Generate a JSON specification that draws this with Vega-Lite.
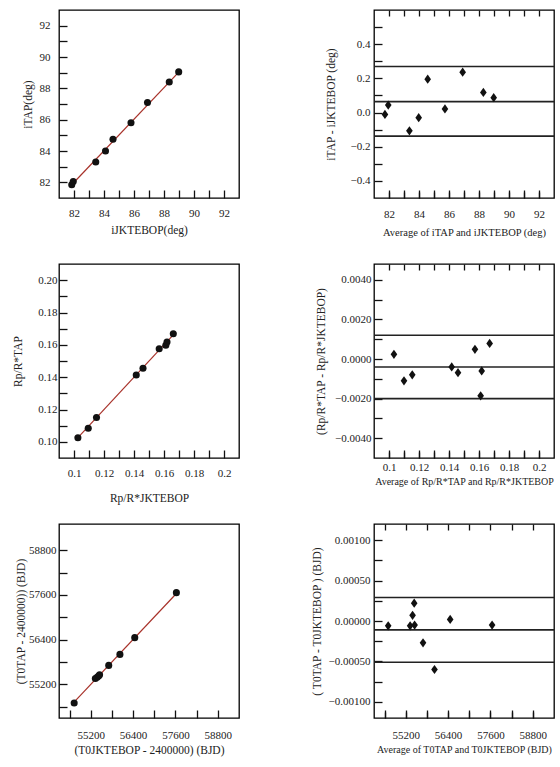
{
  "$schema": "https://vega.github.io/schema/vega-lite/v6.json",
  "padding": {"left": 12, "top": 9, "right": 0, "bottom": 0},
  "autosize": {"type": "pad"},
  "config": {
    "view": {"stroke": "#000", "strokeWidth": 1.3},
    "font": "Liberation Serif",
    "axis": {"labelFont": "Liberation Serif", "titleFont": "Liberation Serif", "labelFontSize": 11, "titleFontSize": 11.5, "labelColor": "#222", "titleColor": "#222", "titleFontWeight": "normal", "tickColor": "#111", "tickWidth": 1.3, "domain": false, "grid": true, "gridColor": "#111", "gridWidth": 1.3, "gridOpacity": 1, "labelOverlap": false, "labelFlush": false}
  },
  "datasets": {
    "p1": [{"x":81.85,"y":81.85},{"x":81.95,"y":82.05},{"x":83.45,"y":83.3},{"x":84.1,"y":84.0},{"x":84.6,"y":84.75},{"x":85.8,"y":85.8},{"x":86.9,"y":87.1},{"x":88.35,"y":88.4},{"x":88.98,"y":89.05}],
    "p1line": [{"x":81.8,"y":81.8},{"x":89.0,"y":89.05}],
    "p2": [{"x":81.73,"y":-0.011},{"x":81.95,"y":0.044},{"x":83.36,"y":-0.107},{"x":83.98,"y":-0.03},{"x":84.58,"y":0.195},{"x":85.73,"y":0.021},{"x":86.91,"y":0.236},{"x":88.29,"y":0.118},{"x":88.98,"y":0.087}],
    "p2lines": [{"y":0.269},{"y":0.064},{"y":-0.138}],
    "p3": [{"x":0.1026,"y":0.1025},{"x":0.1095,"y":0.1084},{"x":0.115,"y":0.1151},{"x":0.1415,"y":0.1413},{"x":0.146,"y":0.1455},{"x":0.1568,"y":0.1576},{"x":0.1612,"y":0.1597},{"x":0.162,"y":0.1618},{"x":0.1662,"y":0.1669}],
    "p3line": [{"x":0.102,"y":0.102},{"x":0.1665,"y":0.1665}],
    "p4": [{"x":0.1033,"y":0.00024},{"x":0.11,"y":-0.0011},{"x":0.1155,"y":-0.0008},{"x":0.1418,"y":-0.0004},{"x":0.146,"y":-0.00069},{"x":0.1573,"y":0.00049},{"x":0.1618,"y":-0.0006},{"x":0.1611,"y":-0.00186},{"x":0.1671,"y":0.00079}],
    "p4lines": [{"y":0.0012},{"y":-0.0004},{"y":-0.002}],
    "p5": [{"x":54730,"y":54700},{"x":55330,"y":55360},{"x":55380,"y":55390},{"x":55422,"y":55423},{"x":55450,"y":55460},{"x":55709,"y":55710},{"x":56026,"y":56005},{"x":56446,"y":56454},{"x":57626,"y":57660}],
    "p5line": [{"x":54700,"y":54700},{"x":57640,"y":57650}],
    "p6": [{"x":54702,"y":-0.00006},{"x":55324,"y":-0.00006},{"x":55393,"y":0.00007},{"x":55439,"y":0.00022},{"x":55450,"y":-0.00005},{"x":55689,"y":-0.00027},{"x":56014,"y":-0.0006},{"x":56458,"y":0.00002},{"x":57646,"y":-0.00005}],
    "p6lines": [{"y":0.00029},{"y":-0.00011},{"y":-0.00051}]
  },
  "columns": 2,
  "spacing": {"row": 66, "column": 135},
  "bounds": "flush",
  "align": "each",
  "concat": [
    {
      "width": 180, "height": 188,
      "resolve": {"axis": {"x": "independent", "y": "independent"}},
      "layer": [
        {"data": {"name": "p1line"}, "mark": {"type": "line", "color": "#a8322a", "strokeWidth": 1.2},
         "encoding": {"x": {"field": "x", "type": "quantitative", "scale": {"domain": [81, 93], "nice": false, "zero": false}, "axis": null},
                      "y": {"field": "y", "type": "quantitative", "scale": {"domain": [81, 93], "nice": false, "zero": false}, "axis": null}}},
        {"data": {"name": "p1"}, "mark": {"type": "circle", "size": 50, "color": "#111", "opacity": 1},
         "encoding": {"x": {"field": "x", "type": "quantitative", "scale": {"domain": [81, 93], "nice": false, "zero": false},
                            "axis": {"orient": "bottom", "title": "iJKTEBOP(deg)", "tickSize": -8, "labelPadding": 17, "titlePadding": 6, "gridDash": [6, 176, 6], "values": [82,83,84,85,86,87,88,89,90,91,92], "labelExpr": "datum.value % 2 === 0 ? datum.label : ''"}},
                      "y": {"field": "y", "type": "quantitative", "scale": {"domain": [81, 93], "nice": false, "zero": false},
                            "axis": {"orient": "left", "title": "iTAP(deg)", "tickSize": -8, "labelPadding": 17, "titlePadding": 6, "gridDash": [6, 168, 6], "values": [82,83,84,85,86,87,88,89,90,91,92], "labelExpr": "datum.value % 2 === 0 ? datum.label : ''"}}}}
      ]
    },
    {
      "width": 180, "height": 188,
      "resolve": {"axis": {"x": "independent", "y": "independent"}},
      "layer": [
        {"data": {"name": "p2lines"}, "mark": {"type": "rule", "color": "#222", "strokeWidth": 1.6},
         "encoding": {"y": {"field": "y", "type": "quantitative", "scale": {"domain": [-0.5, 0.6], "nice": false, "zero": false}, "axis": null}}},
        {"data": {"name": "p2"}, "mark": {"type": "point", "shape": "M0,-1L0.72,0L0,1L-0.72,0Z", "filled": true, "size": 85, "color": "#111", "opacity": 1},
         "encoding": {"x": {"field": "x", "type": "quantitative", "scale": {"domain": [81, 93], "nice": false, "zero": false},
                            "axis": {"orient": "bottom", "title": "Average of iTAP and iJKTEBOP (deg)", "titleFontSize": 10.5, "tickSize": -8, "labelPadding": 18, "titlePadding": 8, "gridDash": [6, 176, 6], "values": [82,83,84,85,86,87,88,89,90,91,92], "labelExpr": "datum.value % 2 === 0 ? datum.label : ''"}},
                      "y": {"field": "y", "type": "quantitative", "scale": {"domain": [-0.5, 0.6], "nice": false, "zero": false},
                            "axis": {"orient": "left", "title": "iTAP - iJKTEBOP (deg)", "tickSize": -8, "labelPadding": 12, "titlePadding": 14, "gridDash": [6, 168, 6], "values": [-0.4,-0.3,-0.2,-0.1,0,0.1,0.2,0.3,0.4,0.5], "labelExpr": "abs(round(datum.value*10)) % 2 === 0 && datum.value < 0.45 ? format(datum.value, '.1f') : ''"}}}}
      ]
    },
    {
      "width": 180, "height": 194,
      "resolve": {"axis": {"x": "independent", "y": "independent"}},
      "layer": [
        {"data": {"name": "p3line"}, "mark": {"type": "line", "color": "#a8322a", "strokeWidth": 1.2},
         "encoding": {"x": {"field": "x", "type": "quantitative", "scale": {"domain": [0.09, 0.21], "nice": false, "zero": false}, "axis": null},
                      "y": {"field": "y", "type": "quantitative", "scale": {"domain": [0.09, 0.21], "nice": false, "zero": false}, "axis": null}}},
        {"data": {"name": "p3"}, "mark": {"type": "circle", "size": 50, "color": "#111", "opacity": 1},
         "encoding": {"x": {"field": "x", "type": "quantitative", "scale": {"domain": [0.09, 0.21], "nice": false, "zero": false},
                            "axis": {"orient": "bottom", "title": "Rp/R*JKTEBOP", "tickSize": -8, "labelPadding": 17, "titlePadding": 14, "gridDash": [6, 182, 6], "values": [0.1,0.11,0.12,0.13,0.14,0.15,0.16,0.17,0.18,0.19,0.2], "labelExpr": "round(datum.value*100) % 2 === 0 ? format(datum.value, '~g') : ''"}},
                      "y": {"field": "y", "type": "quantitative", "scale": {"domain": [0.09, 0.21], "nice": false, "zero": false},
                            "axis": {"orient": "left", "title": "Rp/R*TAP", "tickSize": -8, "labelPadding": 10, "titlePadding": 14, "gridDash": [6, 168, 6], "values": [0.1,0.11,0.12,0.13,0.14,0.15,0.16,0.17,0.18,0.19,0.2], "labelExpr": "round(datum.value*100) % 2 === 0 ? format(datum.value, '.2f') : ''"}}}}
      ]
    },
    {
      "width": 180, "height": 194,
      "resolve": {"axis": {"x": "independent", "y": "independent"}},
      "layer": [
        {"data": {"name": "p4lines"}, "mark": {"type": "rule", "color": "#222", "strokeWidth": 1.6},
         "encoding": {"y": {"field": "y", "type": "quantitative", "scale": {"domain": [-0.005, 0.0048], "nice": false, "zero": false}, "axis": null}}},
        {"data": {"name": "p4"}, "mark": {"type": "point", "shape": "M0,-1L0.72,0L0,1L-0.72,0Z", "filled": true, "size": 85, "color": "#111", "opacity": 1},
         "encoding": {"x": {"field": "x", "type": "quantitative", "scale": {"domain": [0.09, 0.21], "nice": false, "zero": false},
                            "axis": {"orient": "bottom", "title": "Average of Rp/R*TAP and Rp/R*JKTEBOP", "titleFontSize": 10, "tickSize": -8, "labelPadding": 11, "titlePadding": 4, "gridDash": [6, 182, 6], "values": [0.1,0.11,0.12,0.13,0.14,0.15,0.16,0.17,0.18,0.19,0.2], "labelExpr": "round(datum.value*100) % 2 === 0 ? format(datum.value, '~g') : ''"}},
                      "y": {"field": "y", "type": "quantitative", "scale": {"domain": [-0.005, 0.0048], "nice": false, "zero": false},
                            "axis": {"orient": "left", "title": "(Rp/R*TAP - Rp/R*JKTEBOP)", "tickSize": -8, "labelPadding": 11, "titlePadding": 8, "gridDash": [6, 168, 6], "values": [-0.004,-0.003,-0.002,-0.001,0,0.001,0.002,0.003,0.004], "labelExpr": "abs(round(datum.value*1000)) % 2 === 0 ? format(datum.value, '.4f') : ''"}}}}
      ]
    },
    {
      "width": 180, "height": 194,
      "resolve": {"axis": {"x": "independent", "y": "independent"}},
      "layer": [
        {"data": {"name": "p5line"}, "mark": {"type": "line", "color": "#a8322a", "strokeWidth": 1.2},
         "encoding": {"x": {"field": "x", "type": "quantitative", "scale": {"domain": [54300, 59400], "nice": false, "zero": false}, "axis": null},
                      "y": {"field": "y", "type": "quantitative", "scale": {"domain": [54300, 59500], "nice": false, "zero": false}, "axis": null}}},
        {"data": {"name": "p5"}, "mark": {"type": "circle", "size": 50, "color": "#111", "opacity": 1},
         "encoding": {"x": {"field": "x", "type": "quantitative", "scale": {"domain": [54300, 59400], "nice": false, "zero": false},
                            "axis": {"orient": "bottom", "title": "(T0JKTEBOP - 2400000) (BJD)", "tickSize": -8, "labelPadding": 19, "titlePadding": 4, "gridDash": [6, 182, 6], "values": [54600,55200,55800,56400,57000,57600,58200,58800], "labelExpr": "datum.value % 1200 === 0 ? format(datum.value, 'd') : ''"}},
                      "y": {"field": "y", "type": "quantitative", "scale": {"domain": [54300, 59500], "nice": false, "zero": false},
                            "axis": {"orient": "left", "title": "(T0TAP - 2400000)) (BJD)", "tickSize": -8, "labelPadding": 11, "titlePadding": 2, "gridDash": [6, 168, 6], "values": [54600,55200,55800,56400,57000,57600,58200,58800], "labelExpr": "datum.value % 1200 === 0 ? format(datum.value, 'd') : ''"}}}}
      ]
    },
    {
      "width": 180, "height": 194,
      "resolve": {"axis": {"x": "independent", "y": "independent"}},
      "layer": [
        {"data": {"name": "p6lines"}, "mark": {"type": "rule", "color": "#222", "strokeWidth": 1.6},
         "encoding": {"y": {"field": "y", "type": "quantitative", "scale": {"domain": [-0.0012, 0.0012], "nice": false, "zero": false}, "axis": null}}},
        {"data": {"name": "p6"}, "mark": {"type": "point", "shape": "M0,-1L0.72,0L0,1L-0.72,0Z", "filled": true, "size": 85, "color": "#111", "opacity": 1},
         "encoding": {"x": {"field": "x", "type": "quantitative", "scale": {"domain": [54300, 59400], "nice": false, "zero": false},
                            "axis": {"orient": "bottom", "title": "Average of T0TAP and T0JKTEBOP (BJD)", "titleFontSize": 10, "tickSize": -8, "labelPadding": 19, "titlePadding": 4, "gridDash": [6, 182, 6], "values": [54600,55200,55800,56400,57000,57600,58200,58800], "labelExpr": "datum.value % 1200 === 0 ? format(datum.value, 'd') : ''"}},
                      "y": {"field": "y", "type": "quantitative", "scale": {"domain": [-0.0012, 0.0012], "nice": false, "zero": false},
                            "axis": {"orient": "left", "title": "( T0TAP - T0JKTEBOP ) (BJD)", "tickSize": -8, "labelPadding": 12, "titlePadding": 6, "gridDash": [6, 168, 6], "values": [-0.001,-0.00075,-0.0005,-0.00025,0,0.00025,0.0005,0.00075,0.001], "labelExpr": "abs(round(datum.value*4000)) % 2 === 0 ? format(datum.value, '.5f') : ''"}}}}
      ]
    }
  ]
}
